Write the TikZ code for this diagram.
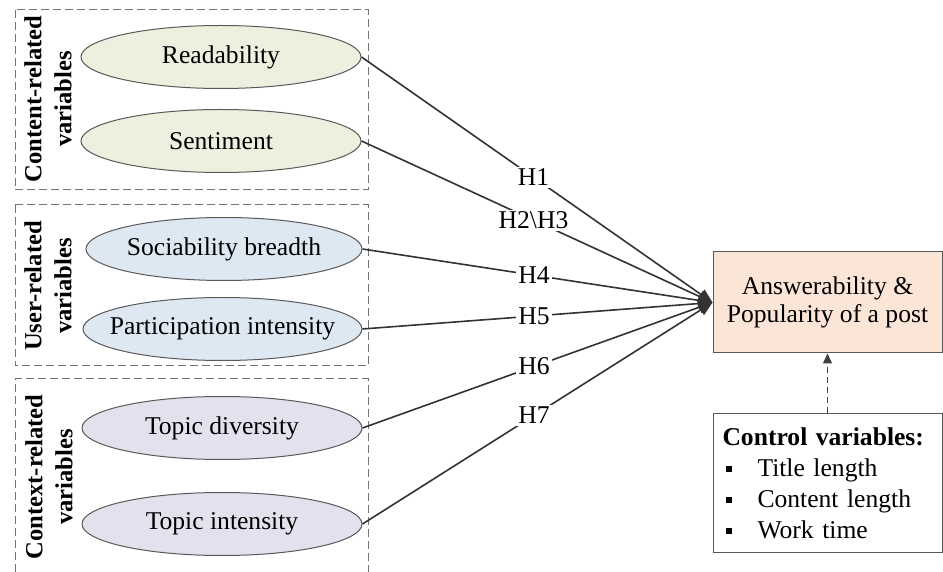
\documentclass[tikz,border=0pt]{standalone}
\usepackage{fontspec}
\setmainfont{Liberation Serif}
\usetikzlibrary{shapes.geometric,arrows.meta}

\definecolor{contentfill}{HTML}{EBF1DE}
\definecolor{userfill}{HTML}{DEE8F3}
\definecolor{contextfill}{HTML}{E4E0EE}
\definecolor{outfill}{HTML}{FBE5D6}

% text that does not widen its ellipse
\newcommand{\vartext}[1]{\makebox[0pt]{#1}}

\begin{document}
\begin{tikzpicture}[x=0.5pt,y=-0.5pt,
  font=\fontsize{12.8}{15}\selectfont,
  var/.style={ellipse,draw=black!65,line width=0.5pt,minimum width=140pt,minimum height=31.5pt,inner sep=0pt},
  group/.style={draw=black!55,line width=0.5pt,dash pattern=on 4pt off 2pt},
  grouplabel/.style={rotate=90,align=center,font=\fontsize{12.3}{15}\selectfont\bfseries},
  link/.style={draw=black!80,line width=0.8pt,-{Triangle[length=7pt,width=6pt]}},
  hyp/.style={fill=white,inner sep=1pt,pos=0.49}]

\useasboundingbox (0,0) rectangle (943,572);

% Groups
\draw[group] (15,10) rectangle (368,190);
\draw[group] (15,205) rectangle (368,366);
\draw[group] (15,572) -- (15,379) -- (368,379) -- (368,572);
\node[grouplabel] (contentlbl) at (48,99) {Content-related\\variables};
\node[grouplabel] (userlbl) at (48,286) {User-related\\variables};
\node[grouplabel] (contextlbl) at (49,477) {Context-related\\variables};

% Variables
\node[var,fill=contentfill] (read) at (221,57) {\vartext{Readability}};
\node[var,fill=contentfill] (sent) at (221,141) {\vartext{Sentiment}};
\node[var,fill=userfill,minimum width=138pt] (soc) at (224,249) {\vartext{Sociability breadth}};
\node[var,fill=userfill,minimum width=139.5pt] (part) at (222.5,329) {\vartext{Participation intensity}};
\node[var,fill=contextfill] (div) at (222,428) {\vartext{Topic diversity}};
\node[var,fill=contextfill] (inten) at (222,524) {\vartext{Topic intensity}};

% Outcome and controls
\node[draw=black!65,fill=outfill,line width=0.5pt,minimum width=114.5pt,minimum height=50.5pt,
  align=center,font=\fontsize{12.8}{14}\selectfont] (out) at (827.5,302.5) {Answerability \&\\Popularity of a post};
\node[draw=black!65,line width=0.5pt,anchor=north west,minimum height=69.5pt,
  text width=105.5pt,inner xsep=4.5pt,align=left,font=\fontsize{12.8}{15.5}\selectfont] (ctrl) at (713,413)
  {\textbf{Control variables:}\\
   \hspace*{1.5pt}\makebox[16pt][l]{\rule[0.15em]{3pt}{3pt}}Title length\\
   \hspace*{1.5pt}\makebox[16pt][l]{\rule[0.15em]{3pt}{3pt}}Content length\\
   \hspace*{1.5pt}\makebox[16pt][l]{\rule[0.15em]{3pt}{3pt}}Work time};

% Hypotheses
\draw[link] (read.east) -- node[hyp] {H1} (out.west);
\draw[link] (sent.east) -- node[hyp] {H2\textbackslash H3} (out.west);
\draw[link] (soc.east) -- node[hyp] {H4} (out.west);
\draw[link] (part.east) -- node[hyp] {H5} (out.west);
\draw[link] (div.east) -- node[hyp] {H6} (out.west);
\draw[link] (inten.east) -- node[hyp] {H7} (out.west);
\draw[draw=black!75,line width=0.7pt,dash pattern=on 3pt off 2pt,-{Triangle[length=5pt,width=4.5pt]}] (ctrl.north -| out.south) -- (out.south);

\end{tikzpicture}
\end{document}
